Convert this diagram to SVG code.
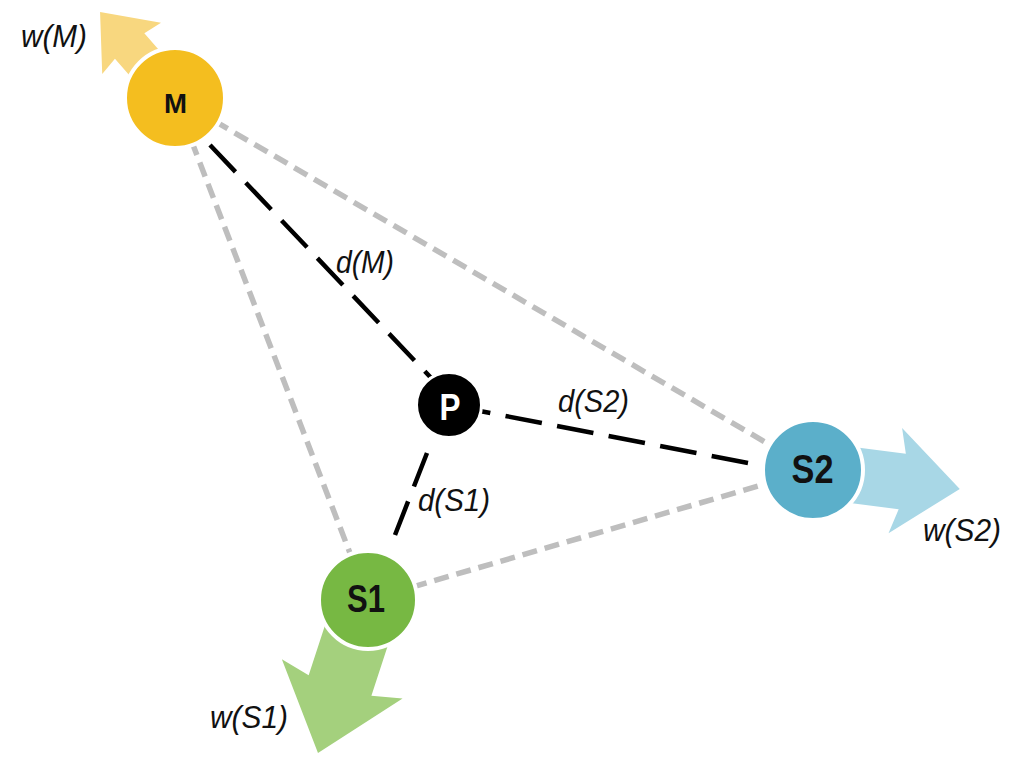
<svg xmlns="http://www.w3.org/2000/svg" width="1024" height="760" viewBox="0 0 1024 760">
<style>
.grey{stroke:#BEBEBE;stroke-width:5.5;stroke-dasharray:15 8;fill:none}
.dist{stroke:#000;stroke-width:4.5;fill:none}
.lbl{font-family:"Liberation Sans",Arial,sans-serif;font-style:italic;font-size:31px;fill:#111}
.node{stroke:#fff;stroke-width:4}
.nlbl{font-family:"Liberation Sans",Arial,sans-serif;font-weight:bold;text-anchor:middle;fill:#111}
</style>
<rect width="1024" height="760" fill="#fff"/>
<g id="connectors">
  <line class="grey" x1="175" y1="98" x2="813" y2="470"/>
  <line class="grey" x1="175" y1="98" x2="368" y2="600"/>
  <line class="grey" x1="368" y1="600" x2="813" y2="470"/>
  <line class="dist" x1="210" y1="145" x2="452" y2="400" stroke-dasharray="37 15"/>
  <line class="dist" x1="748" y1="463" x2="449" y2="405" stroke-dasharray="37 15.5"/>
  <line class="dist" x1="427" y1="453" x2="395" y2="535" stroke-dasharray="36 16"/>
  <text class="lbl" x="336" y="273" textLength="58" lengthAdjust="spacingAndGlyphs">d(M)</text>
  <text class="lbl" x="558" y="412" textLength="71" lengthAdjust="spacingAndGlyphs">d(S2)</text>
  <text class="lbl" x="418" y="511" textLength="72" lengthAdjust="spacingAndGlyphs">d(S1)</text>
</g>
<g id="node-M">
  <polygon fill="#F8D77F" transform="translate(175,98) rotate(-131.1)" points="0,-19.5 69,-19.5 66,-39 114,0 66,39 69,19.5 0,19.5"/>
  <circle class="node" cx="175" cy="98" r="50" fill="#F4BE1F"/>
  <text class="nlbl" x="175.5" y="113" font-size="27" textLength="23" lengthAdjust="spacingAndGlyphs">M</text>
  <text class="lbl" x="21" y="47" textLength="66" lengthAdjust="spacingAndGlyphs">w(M)</text>
</g>
<g id="node-S2">
  <polygon fill="#A8D7E6" transform="translate(813,470) rotate(7.36)" points="0,-28 90,-28 83,-53 148,0 83,53 90,28 0,28"/>
  <circle class="node" cx="813" cy="470" r="50" fill="#5BAFCA"/>
  <text class="nlbl" x="812.5" y="483" font-size="41" textLength="42" lengthAdjust="spacingAndGlyphs">S2</text>
  <text class="lbl" x="923" y="541" textLength="78" lengthAdjust="spacingAndGlyphs">w(S2)</text>
</g>
<g id="node-S1">
  <polygon fill="#A4D07D" transform="translate(368,600) rotate(108.1)" points="0,-33 90,-33 83,-63.5 161,0 83,63.5 90,33 0,33"/>
  <circle class="node" cx="368" cy="600" r="49" fill="#77B843"/>
  <text class="nlbl" x="366" y="612" font-size="39" textLength="38" lengthAdjust="spacingAndGlyphs">S1</text>
  <text class="lbl" x="210" y="728" textLength="78" lengthAdjust="spacingAndGlyphs">w(S1)</text>
</g>
<g id="node-P">
  <circle cx="449" cy="405" r="32.5" fill="#000" stroke="#fff" stroke-width="3"/>
  <text class="nlbl" x="450" y="420" font-size="36" textLength="21" lengthAdjust="spacingAndGlyphs" style="fill:#fff">P</text>
</g>
</svg>
